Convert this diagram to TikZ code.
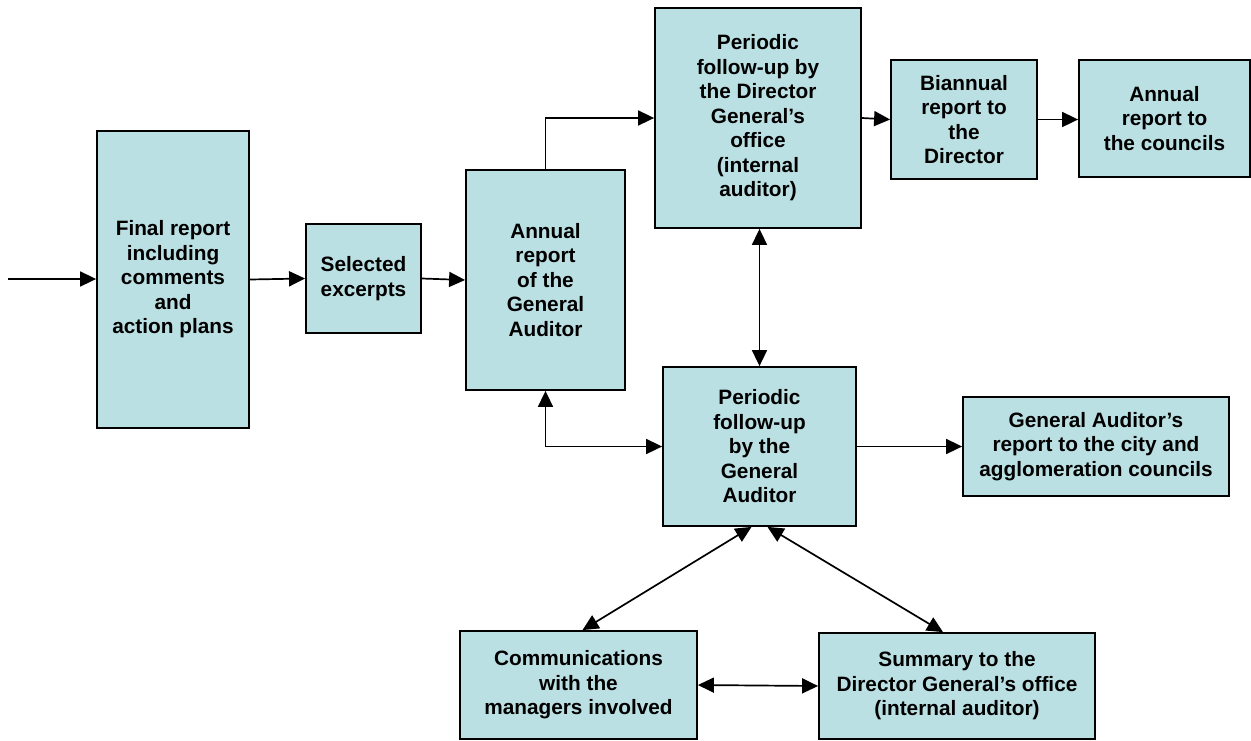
\documentclass[tikz,border=0pt]{standalone}
\usepackage{fontspec}
\setmainfont{Liberation Sans}
\usetikzlibrary{arrows.meta}
\definecolor{boxfill}{HTML}{BBE0E3}
\tikzset{
  box/.style={draw=black, line width=1.8pt, fill=boxfill, inner sep=0pt, align=center,
    font=\fontsize{20.8}{24.5}\selectfont\bfseries, anchor=center},
  tip/.tip={Triangle[length=16pt,width=15pt]},
  conn/.style={line width=1.7pt, -tip},
  dconn/.style={line width=1.7pt, tip-tip}
}
\begin{document}
\begin{tikzpicture}[x=1pt,y=-1pt]
\useasboundingbox (0,0) rectangle (1251,740);
\node[box, minimum width=152pt, minimum height=297pt] (fin) at (173,279.5) {Final report\\including\\comments\\and\\action plans};
\node[box, minimum width=115pt, minimum height=109pt] (sel) at (363.5,278.5) {Selected\\excerpts};
\node[box, minimum width=159pt, minimum height=220pt] (ann) at (545.5,280) {Annual\\report\\of the\\General\\Auditor};
\node[box, minimum width=206pt, minimum height=220pt] (pdg) at (758,118) {Periodic\\follow-up by\\the Director\\General's\\office\\(internal\\auditor)};
\node[box, minimum width=146pt, minimum height=119pt] (bia) at (964,119.5) {Biannual\\report to\\the\\Director};
\node[box, minimum width=171pt, minimum height=117pt] (cou) at (1164.5,118.5) {Annual\\report to\\the councils};
\node[box, minimum width=193pt, minimum height=159pt] (pga) at (759.5,446.5) {Periodic\\follow-up\\by the\\General\\Auditor};
\node[box, minimum width=266pt, minimum height=99pt] (gar) at (1096,446.5) {General Auditor's\\report to the city and\\agglomeration councils};
\node[box, minimum width=237pt, minimum height=108pt] (com) at (578.5,685) {Communications\\with the\\managers involved};
\node[box, minimum width=276pt, minimum height=106pt] (sum) at (957,686) {Summary to the\\Director General's office\\(internal auditor)};
\coordinate (start) at (8,279);
\draw[conn] (start) -- (fin.west |- start);
\draw[conn] (fin.east) -- (sel.west);
\draw[conn] (sel.east) -- (ann.west);
\draw[conn] (ann.north) |- (pdg.west);
\draw[conn] (pdg.east) -- (bia.west);
\draw[conn] (bia.east) -- (cou.west |- bia.east);
\draw[dconn] (pga.north |- pdg.south) -- (pga.north);
\draw[dconn] (ann.south) |- (pga.west);
\draw[conn] (pga.east) -- (gar.west);
\draw[dconn] ([xshift=-8pt]pga.south) -- ([xshift=4pt]com.north);
\draw[dconn] ([xshift=8pt]pga.south) -- ([xshift=-14pt]sum.north);
\draw[dconn] (com.east) -- (sum.west);
\end{tikzpicture}
\end{document}
